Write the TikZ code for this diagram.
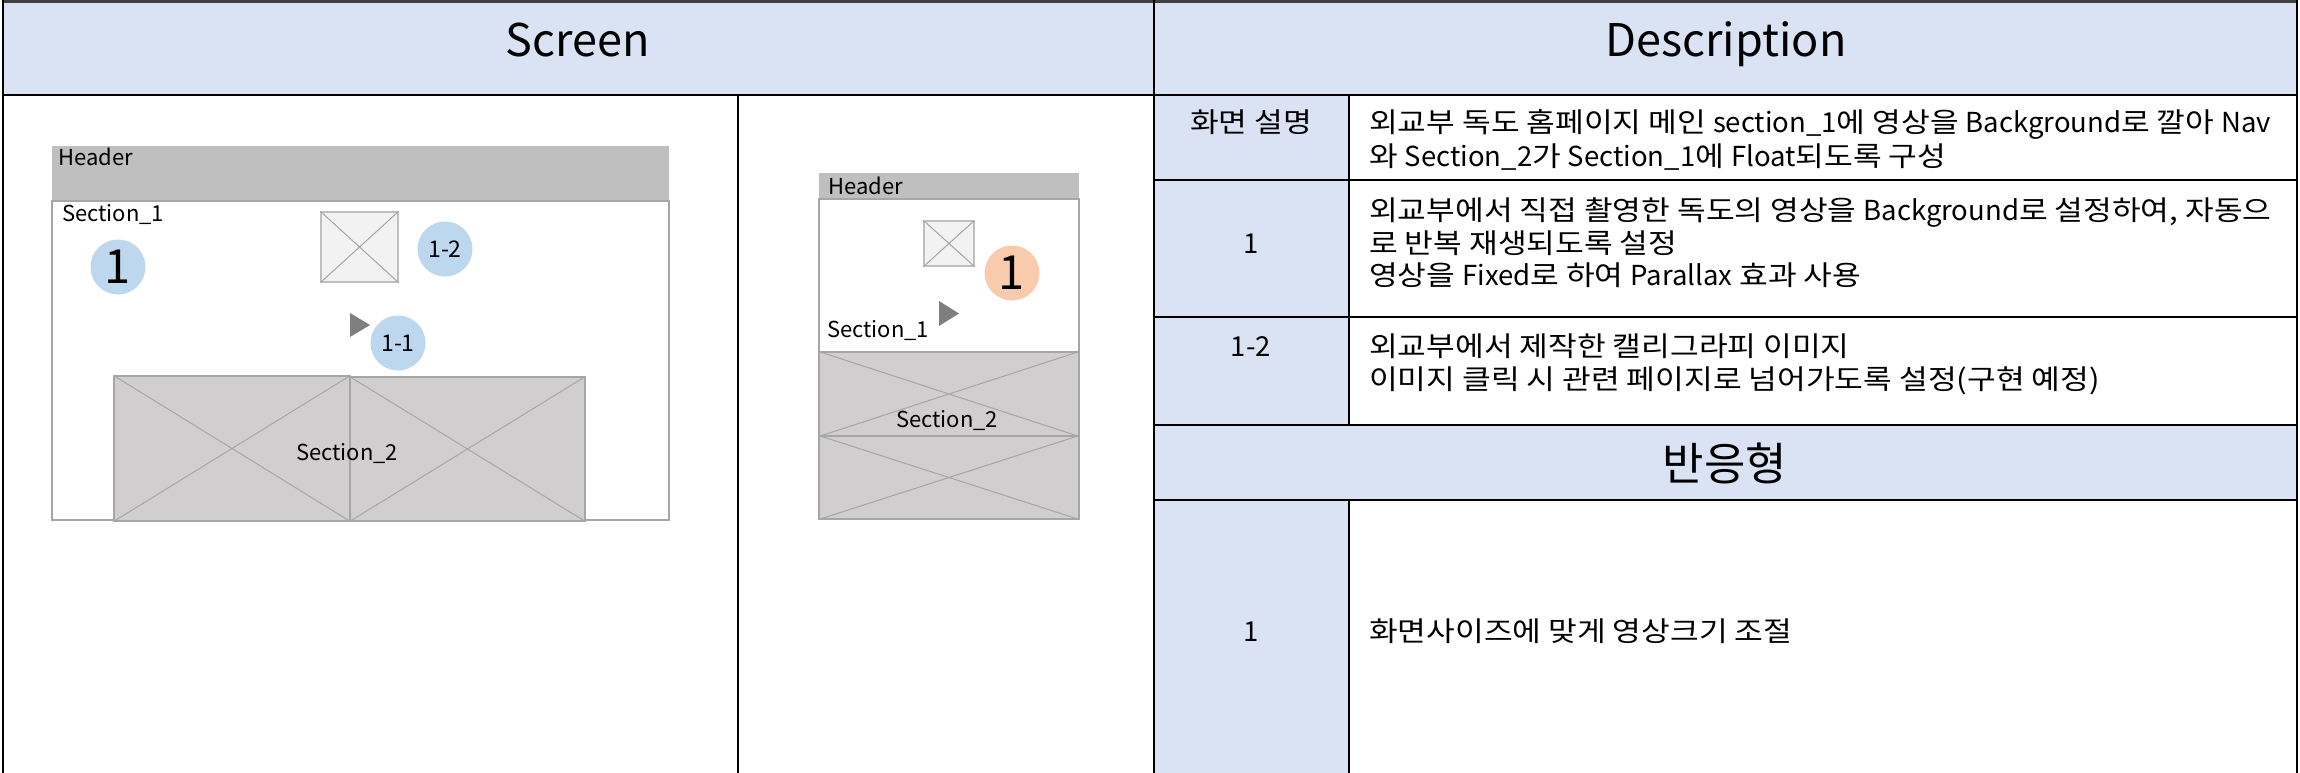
\documentclass[tikz,border=0pt]{standalone}
\usepackage{fontspec}
\setmainfont{Noto Sans CJK KR}
\newfontfamily\hangulfont[FakeStretch=1.135]{Noto Sans CJK KR}
\newcommand\lseg[1]{{\rmfamily #1}}
\definecolor{hdrblue}{HTML}{DAE3F3}
\definecolor{badgeblue}{HTML}{BDD7EE}
\definecolor{badgeorange}{HTML}{F8CBAD}
\definecolor{bargray}{HTML}{BFBFBF}
\definecolor{secgray}{HTML}{D0CECE}
\definecolor{edgegray}{HTML}{A6A6A6}
\definecolor{imgfill}{HTML}{F2F2F2}
\definecolor{playgray}{HTML}{7F7F7F}
\tikzset{
  tableline/.style={line width=2.6pt, draw=black},
  boxedge/.style={draw=edgegray, line width=1.5pt},
  crossline/.style={draw=edgegray, line width=1pt},
  bodytext/.style={inner sep=0pt, text height=24.2pt, text depth=3.3pt, font=\hangulfont\fontsize{27.5}{33}\selectfont},
  numtext/.style={inner sep=0pt, text height=24.2pt, text depth=3.3pt, font=\fontsize{27.5}{33}\selectfont},
  labeltext/.style={inner sep=0pt, text height=19.4pt, text depth=2.6pt, font=\fontsize{22}{26}\selectfont},
  headtext/.style={inner sep=0pt, text height=39.6pt, text depth=5.4pt, font=\fontsize{45}{54}\selectfont},
  badge/.style={circle, minimum size=55pt, inner sep=0pt, fill=badgeblue},
  imgbox/.style={rectangle, inner sep=0pt, fill=imgfill, draw=bargray, line width=1.5pt},
  secbox/.style={rectangle, inner sep=0pt, fill=secgray, draw=edgegray, line width=1.2pt},
}
\begin{document}
\begin{tikzpicture}[x=1pt, y=-1pt]
\useasboundingbox (0,0) rectangle (2300,773);
\fill[white] (0,0) rectangle (2300,773);
% fills of the table
\fill[hdrblue] (3,0) rectangle (2297,95);
\fill[hdrblue] (1154,95) rectangle (1349,773);
\fill[hdrblue] (1154,425) rectangle (2297,500);

% header titles
\node[headtext] (tscreen) at (578,39) {Screen};
\node[headtext] (tdesc) at (1726,39) {Description};

% ---------- desktop mockup ----------
\node[rectangle, inner sep=0pt, fill=bargray, minimum width=617pt, minimum height=55pt] (dhead) at (360.5,173.5) {};
\node[rectangle, inner sep=0pt, fill=white, boxedge, minimum width=617pt, minimum height=319pt] (dsec) at (360.5,360.5) {};
\node[labeltext, anchor=west] (dheadtxt) at (58,157) {Header};
\node[labeltext, anchor=west] (dsectxt) at (62,213) {Section\_1};
\node[imgbox, minimum width=77pt, minimum height=70pt] (dimg) at (359.5,247) {};
\draw[crossline] (dimg.north west) -- (dimg.south east) (dimg.north east) -- (dimg.south west);
\fill[playgray] (350,313) -- (370,325) -- (350,337) -- cycle;
\node[secbox, minimum width=236pt, minimum height=145pt] (dsa) at (232,448.5) {};
\node[secbox, minimum width=235pt, minimum height=144pt] (dsb) at (467.5,449) {};
\draw[crossline] (dsa.north west) -- (dsa.south east) (dsa.north east) -- (dsa.south west);
\draw[crossline] (dsb.north west) -- (dsb.south east) (dsb.north east) -- (dsb.south west);
\node[labeltext] (dsec2txt) at (347,452) {Section\_2};
\node[badge, font=\fontsize{47}{50}\selectfont] (dbone) at (118,267) {1};
\node[badge, font=\fontsize{23}{26}\selectfont] (dbtwo) at (445,249) {1-2};
\node[badge, font=\fontsize{23}{26}\selectfont] (dbthree) at (398,343) {1-1};

% ---------- mobile mockup ----------
\node[rectangle, inner sep=0pt, fill=bargray, minimum width=260pt, minimum height=26pt] (mhead) at (949,186) {};
\node[rectangle, inner sep=0pt, fill=white, boxedge, minimum width=260pt, minimum height=153pt] (msec) at (949,275.5) {};
\node[labeltext, anchor=west] (mheadtxt) at (828,186) {Header};
\node[imgbox, minimum width=50pt, minimum height=45pt] (mimg) at (949,243.5) {};
\draw[crossline] (mimg.north west) -- (mimg.south east) (mimg.north east) -- (mimg.south west);
\node[badge, fill=badgeorange, font=\fontsize{47}{50}\selectfont] (mbone) at (1012,273) {1};
\fill[playgray] (939,301) -- (959,313.5) -- (939,326) -- cycle;
\node[labeltext, anchor=west] (msectxt) at (827,329) {Section\_1};
\node[secbox, minimum width=260pt, minimum height=84pt] (msa) at (949,394) {};
\node[secbox, minimum width=260pt, minimum height=83pt] (msb) at (949,477.5) {};
\draw[crossline] (msa.north west) -- (msa.south east) (msa.north east) -- (msa.south west);
\draw[crossline] (msb.north west) -- (msb.south east) (msb.north east) -- (msb.south west);
\node[labeltext] (msec2txt) at (947,419) {Section\_2};

% ---------- description ----------
\node[bodytext] (lone) at (1251,122) {화면 설명};
\node[numtext] (ltwo) at (1251,243) {1};
\node[numtext] (lthree) at (1251,346) {1-2};
\node[numtext] (lfive) at (1251,631) {1};
\node[headtext] (treact) at (1725,463) {반응형};

\node[bodytext, anchor=west] (ra) at (1369,122) {외교부 독도 홈페이지 메인 \lseg{section\_1}에 영상을 \lseg{Background}로 깔아 \lseg{Nav}};
\node[bodytext, anchor=west] (rb) at (1369,156) {와 \lseg{Section\_2}가 \lseg{Section\_1}에 \lseg{Float}되도록 구성};
\node[bodytext, anchor=west] (rc) at (1369,210) {외교부에서 직접 촬영한 독도의 영상을 \lseg{Background}로 설정하여, 자동으};
\node[bodytext, anchor=west] (rd) at (1369,243) {로 반복 재생되도록 설정};
\node[bodytext, anchor=west] (re) at (1369,275) {영상을 \lseg{Fixed}로 하여 \lseg{Parallax} 효과 사용};
\node[bodytext, anchor=west] (rf) at (1369,346) {외교부에서 제작한 캘리그라피 이미지};
\node[bodytext, anchor=west] (rg) at (1369,379) {이미지 클릭 시 관련 페이지로 넘어가도록 설정(구현 예정)};
\node[bodytext, anchor=west] (rh) at (1369,631) {화면사이즈에 맞게 영상크기 조절};

% ---------- table lines ----------
\draw[tableline, draw=black!75] (3,1.3) -- (2297,1.3);
\draw[tableline] (3,95) -- (2297,95);
\draw[tableline] (3,0) -- (3,773);
\draw[tableline] (738,95) -- (738,773);
\draw[tableline] (1154,0) -- (1154,773);
\draw[tableline] (2297,0) -- (2297,773);
\draw[tableline] (1349,95) -- (1349,425);
\draw[tableline] (1349,500) -- (1349,773);
\draw[tableline] (1154,180) -- (2297,180);
\draw[tableline] (1154,317) -- (2297,317);
\draw[tableline] (1154,425) -- (2297,425);
\draw[tableline] (1154,500) -- (2297,500);
\end{tikzpicture}
\end{document}
